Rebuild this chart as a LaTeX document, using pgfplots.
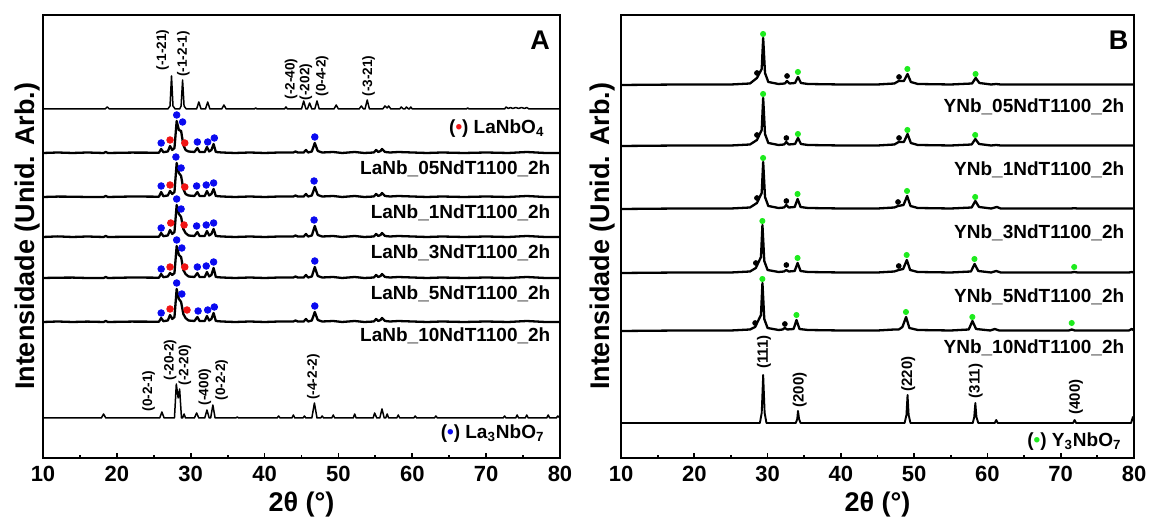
\documentclass[border=0pt]{standalone}
\usepackage{fontspec}
\setmainfont{Liberation Sans}
\usepackage{pgfplots}
\usepackage{pgfplotstable}
\pgfplotsset{compat=1.18}
\definecolor{dotblue}{RGB}{10,10,240}
\definecolor{dotred}{RGB}{240,20,20}
\definecolor{dotgreen}{RGB}{30,235,30}
\newcommand{\lab}{\bfseries\fontsize{9.5}{11}\selectfont}
\newcommand{\hklA}{\bfseries\fontsize{6.8}{8}\selectfont}
\newcommand{\hklB}{\bfseries\fontsize{7.5}{9}\selectfont}

% LaNbO4 reference (panel A, top)
\pgfplotstableread{
x y
10 0
18.4 0
18.7 2
19.0 0
26.9 0
27.2 3
27.4 33
27.6 3
27.9 0
28.5 0
28.7 3
28.9 29
29.1 3
29.4 0
30.8 0
31.1 7
31.4 0
32.0 0
32.3 7
32.6 0
34.2 0
34.5 4
34.8 0
38.6 0
38.8 1
39.0 0
42.7 0
42.9 2
43.1 0
45.0 0
45.3 8
45.6 0
45.8 0
46.1 6
46.4 0
46.8 0
47.1 8
47.4 0
49.4 0
49.7 4
50.0 0
52.8 0
53.1 3
53.4 0
53.6 0
53.9 9
54.2 0
56.0 0
56.3 3
56.6 1
56.8 3
57.1 0
58.3 0
58.5 2
58.8 0
59.0 0
59.2 2
59.5 0
59.6 0
59.8 2
60.0 0
67.3 0
67.5 1
67.7 0
72.5 0
72.7 2
73.0 0.5
73.3 1.5
73.6 0.5
74.0 1.5
74.4 0.5
74.8 1.5
75.2 0.5
75.5 1.5
75.8 0
80 0
}\tabLaNbO

% La3NbO7 reference (panel A, bottom)
\pgfplotstableread{
x y
10 0
17.9 0
18.2 4
18.5 0
25.8 0
26.1 6
26.4 0
27.8 0
28.05 34
28.3 20
28.5 29
28.75 0
28.9 0
29.1 4
29.3 0
30.5 0
30.8 5
31.1 0
31.9 0
32.2 8
32.5 0
32.7 0
33.0 13
33.3 0
36.1 0
36.3 1
36.5 0
41.7 0
41.9 2
42.1 0
43.7 0
43.9 3
44.1 0
45.2 0
45.4 2
45.6 0
46.4 0
46.75 15
47.1 0
47.6 0
47.8 2
48.0 0
49.1 0
49.3 3
49.5 0
52.0 0
52.2 4
52.4 0
54.7 0
54.9 5
55.2 0
55.6 0
55.9 9
56.2 0
56.4 0
56.6 4
56.8 0
57.9 0
58.1 3
58.3 0
60.2 0
60.4 2
60.6 0
63.0 0
63.2 2
63.4 0
72.3 0
72.5 2
72.7 0
74.0 0
74.2 3
74.4 0
75.3 0
75.5 3
75.7 0
78.2 0
78.4 3
78.6 0
79.5 0
79.7 2
80 0
}\tabLaSeven

% LaNb samples
\pgfplotstableread{
x s05 s1 s3 s5 s10
10 0 0 0 0 0
12 0.5 0.4 0.6 0.3 0.5
14 0 0.3 0 0.4 0
16 0.5 0 0.5 0 0.4
18.2 0 0 0 0 0
18.5 1 1 1 1 1
18.8 0 0 0 0 0
22 0.4 0.5 0.3 0.5 0.4
25.7 0.3 0.3 0.3 0.3 0.3
26.0 4 5 4 4 4
26.3 0.8 0.8 0.8 0.8 0.8
26.9 1.5 1.5 1.5 1.5 1.5
27.2 7 6 7 5 7
27.5 3 3 3 3 3
27.8 5 5 5 5 5
28.1 32 34 32 32 33
28.4 23 24 23 23 23
28.7 22 21 20 21 20
29.0 8 8 8 8 8
29.3 3 3 4 4 4
29.7 1.5 1.5 1.5 1.5 1.5
30.5 1 1 1 1 1
30.9 5 5 5 5 5
31.2 1 1 1 1 1
31.9 1 1 1 1 1
32.2 6 6 6 6 6
32.5 1.5 1.5 1.5 1.5 1.5
32.8 3 3 3 3 3
33.1 9 8 8 10 9
33.4 1 1 1 1 1
34.2 0.5 0.5 0.5 0.5 0.5
36.0 0 0 0 0 0
38.0 0.5 0.5 0.5 0.5 0.5
40.0 0 0 0 0 0
42.0 0.5 0.5 0.5 0.5 0.5
43.9 0.5 0.5 0.5 0.5 0.5
44.2 1.5 1.5 1.5 1.5 1.5
44.5 0.5 0.5 0.5 0.5 0.5
45.3 0.5 0.5 0.5 0.5 0.5
45.6 3 3 3 3 3
45.9 0.5 0.5 0.5 0.5 0.5
46.4 1.5 1.5 1.5 1.5 1.5
46.8 10 10 11 11 10
47.2 2 2 2 2 2
47.8 0.5 0.5 0.5 0.5 0.5
49.3 1 1 1 1 1
50.5 0 0 0 0 0
52.2 1 1 1 1 1
53.5 0 0 0 0 0
54.8 0.5 0.5 0.5 0.5 0.5
55.1 3 3 3 3 3
55.4 1 1 1 1 1
55.7 2 2 2 2 2
55.9 4 4 4 4 4
56.3 1 1 1 1 1
57.0 0.5 0.5 0.5 0.5 0.5
58.1 1 1 1 1 1
60.0 0.5 0.5 0.5 0.5 0.5
62.0 0 0 0 0 0
64.0 0.5 0.5 0.5 0.5 0.5
67.0 0 0 0 0 0
70.0 0.5 0.5 0.5 0.5 0.5
73.0 0 0 0 0 0
75.5 1 1 1 1 1
78.0 0 0 0 0 0
80.0 0 0 0 0 0
}\tabLaSamples

% YNb samples (x and y per sample)
\pgfplotstableread{
xa ya xb yb xc yc xd yd xe ye
10 0 10 0 10 0 10 0 10 0
18 0.5 18 0.5 18 0.5 18 0.5 18 0.5
25 0.5 25 0.5 25 0.5 25 0.5 25 0.5
27.6 1.5 27.6 1.5 27.6 1.5 27.6 1.5 27.6 1.5
28.55 7 28.55 6 28.55 6 28.4 5 28.3 4
29.2 16 29.2 16 29.2 16 29.1 16 29.1 16
29.4 47 29.4 48 29.4 47 29.3 48 29.3 48
29.65 12 29.65 12 29.65 12 29.55 12 29.55 12
30.1 3 30.1 3 30.1 3 30.0 3 30.0 3
31.5 1 31.5 1 31.5 1 31.5 1 31.5 1
32.35 1.5 32.25 1.5 32.25 1.5 32.25 1.5 32.05 1.5
32.65 4 32.55 4 32.55 4 32.55 3 32.35 3
33.0 1.5 32.9 1.5 32.9 1.5 32.9 1.5 32.7 1.5
33.75 2 33.75 2 33.7 2 33.7 2 33.55 2
34.15 8 34.15 8 34.1 10 34.1 10 33.95 11
34.55 2 34.55 2 34.5 2 34.5 2 34.35 2
35.5 1 35.5 1 35.5 1 35.5 1 35.5 1
40 0.5 40 0.5 40 0.5 40 0.5 40 0.5
45 0.5 45 0.5 45 0.5 45 0.5 45 0.5
47.3 1.5 47.3 1.5 47.3 1.5 47.3 1.5 47.3 1.5
47.9 4 47.9 4 47.8 3 47.9 3 47.9 1.5
48.6 4 48.6 4 48.55 4 48.5 4 48.4 4
49.1 11 49.1 12 49.05 13 49.0 13 48.9 14
49.55 3 49.55 3 49.5 3 49.45 3 49.35 3
50.5 1 50.5 1 50.5 1 50.5 1 50.5 1
55 0.5 55 0.5 55 0.5 55 0.5 55 0.5
57.9 1.5 57.85 1.5 57.85 1.5 57.75 1.5 57.45 1.5
58.4 7 58.35 7 58.35 8 58.25 9 57.95 10
58.9 2 58.85 2 58.85 2 58.75 2 58.45 2
60.5 0.5 60.5 0.5 60.5 0.5 60.5 0.5 60.4 0.5
61.2 1 61.2 1 61.3 2 61.2 2 61.0 2
61.8 0.5 61.8 0.5 61.8 0.5 61.8 0.5 61.6 0.5
65 0.5 65 0.5 65 0.5 65 0.5 65 0.5
71.5 0.5 71.5 0.5 71.4 0.5 71.4 0.5 71.1 0.5
71.9 0.5 71.9 0.5 71.85 0.8 71.85 1 71.5 1.5
72.3 0.5 72.3 0.5 72.3 0.5 72.3 0.5 71.9 0.5
79.3 0.5 79.3 0.5 79.3 0.5 79.3 0.5 79.3 0.5
79.7 0.5 79.7 0.5 79.7 0.5 79.7 1 79.7 2
80 0.5 80 0.5 80 0.5 80 0.5 80 0.5
}\tabYSamples

% Y3NbO7 reference
\pgfplotstableread{
x y
10 0
28.95 0
29.2 10
29.4 48
29.6 10
29.85 0
33.85 0
34.05 4
34.15 12
34.3 4
34.5 0
48.7 0
48.95 8
49.1 28
49.25 8
49.5 0
58.0 0
58.2 6
58.35 20
58.5 6
58.75 0
61.0 0
61.2 3
61.4 0
71.7 0
71.9 3
72.1 0
79.6 0
79.85 6
80 4
}\tabYSeven

\pgfplotsset{
 xrd/.style={
  scale only axis, height=221.5pt,
  xmin=10, xmax=80, ymin=0, ymax=443,
  ytick=\empty, xtick={10,20,...,80}, minor x tick num=1,
  tick align=inside, xtick pos=bottom,
  major tick length=2.5pt, minor tick length=1.5pt,
  every tick/.style={black, line width=0.9pt},
  axis line style={line width=1.15pt},
  tick label style={font=\bfseries\fontsize{11}{13}\selectfont},
  /pgf/number format/assume math mode=true,
  xticklabel style={yshift=-0.5pt},
  xlabel={2θ (°)}, ylabel={Intensidade (Unid. Arb.)},
  label style={font=\bfseries\fontsize{13.5}{16}\selectfont},
  xlabel style={at={(axis description cs:0.5,0)}, anchor=center, yshift=-23.5pt},
  clip=false,
 },
 samp/.style={black, line width=1.15pt, line join=round},
 refp/.style={black, line width=0.75pt, line join=round},
 bdot/.style={only marks, mark=*, mark size=1.65pt, color=dotblue},
 rdot/.style={only marks, mark=*, mark size=1.65pt, color=dotred},
 gdot/.style={only marks, mark=*, mark size=1.3pt, color=dotgreen},
 kdot/.style={only marks, mark=*, mark size=1.2pt, color=black},
}

\begin{document}
\begin{tikzpicture}
\useasboundingbox (0,0) rectangle (575.5pt,259pt);
% ---------------- Panel A ----------------
\begin{axis}[xrd, width=258.5pt, at={(21.5pt,30pt)}, anchor=south west,
  ylabel style={at={(axis description cs:-0.029,0.5)}, anchor=center}]
\addplot[refp] table[x=x, y expr=\thisrow{y}+349] {\tabLaNbO};
\addplot[samp] table[x=x, y expr=\thisrow{s05}+305] {\tabLaSamples};
\addplot[samp] table[x=x, y expr=\thisrow{s1}+261] {\tabLaSamples};
\addplot[samp] table[x=x, y expr=\thisrow{s3}+221] {\tabLaSamples};
\addplot[samp] table[x=x, y expr=\thisrow{s5}+180] {\tabLaSamples};
\addplot[samp] table[x=x, y expr=\thisrow{s10}+136] {\tabLaSamples};
\addplot[refp] table[x=x, y expr=\thisrow{y}+40] {\tabLaSeven};
% La3NbO7 markers
\addplot[bdot] coordinates {(26.0,315) (28.1,343) (28.9,336) (30.9,316) (32.3,316) (33.2,320) (46.8,321)
 (26.0,272) (28.0,301) (28.7,290) (30.8,272) (32.1,273) (33.1,275) (46.7,277)
 (26.0,230) (28.1,259) (28.7,249) (30.8,232) (32.1,233) (33.1,235) (46.7,238)
 (26.0,189) (28.1,218) (28.8,210) (30.9,191) (32.1,192) (33.1,196) (46.8,197)
 (26.0,145) (28.1,175) (28.8,164) (31.0,147) (32.3,148) (33.2,151) (46.8,152)};
% LaNbO4 markers
\addplot[rdot] coordinates {(27.2,318) (29.2,315) (27.2,273) (29.2,271) (27.3,235) (29.1,233)
 (27.2,191) (29.2,191) (27.2,149) (29.5,148)};
% hkl labels
\node[rotate=90, font=\hklA] at (axis cs:26.2,408) {(-1-21)};
\node[rotate=90, font=\hklA] at (axis cs:29.0,404) {(-1-2-1)};
\node[rotate=90, font=\hklA] at (axis cs:43.6,379) {(-2-40)};
\node[rotate=90, font=\hklA] at (axis cs:45.6,376) {(-202)};
\node[rotate=90, font=\hklA] at (axis cs:47.8,382) {(0-4-2)};
\node[rotate=90, font=\hklA] at (axis cs:54.1,382) {(-3-21)};
\node[rotate=90, font=\hklA] at (axis cs:24.3,67) {(0-2-1)};
\node[rotate=90, font=\hklA] at (axis cs:27.2,98) {(-20-2)};
\node[rotate=90, font=\hklA] at (axis cs:29.2,93) {(-2-20)};
\node[rotate=90, font=\hklA] at (axis cs:31.9,71) {(-400)};
\node[rotate=90, font=\hklA] at (axis cs:34.2,78) {(0-2-2)};
\node[rotate=90, font=\hklA] at (axis cs:46.6,81) {(-4-2-2)};
% sample labels
\node[anchor=east, font=\lab] at (axis cs:78.85,329) {(\textcolor{dotred}{•}) LaNbO\textsubscript{4}};
\node[anchor=east, font=\lab] at (axis cs:79.65,289) {LaNb\_05NdT1100\_2h};
\node[anchor=east, font=\lab] at (axis cs:79.65,245) {LaNb\_1NdT1100\_2h};
\node[anchor=east, font=\lab] at (axis cs:79.65,205) {LaNb\_3NdT1100\_2h};
\node[anchor=east, font=\lab] at (axis cs:79.65,164) {LaNb\_5NdT1100\_2h};
\node[anchor=east, font=\lab] at (axis cs:79.65,122) {LaNb\_10NdT1100\_2h};
\node[anchor=east, font=\lab] at (axis cs:78.85,24) {(\textcolor{dotblue}{•}) La\textsubscript{3}NbO\textsubscript{7}};
\node[font=\bfseries\fontsize{13.5}{16}\selectfont] at (axis cs:77.3,418) {A};
\end{axis}
% ---------------- Panel B ----------------
\begin{axis}[xrd, width=256.5pt, at={(310.5pt,30pt)}, anchor=south west,
  ylabel style={at={(axis description cs:-0.037,0.5)}, anchor=center}]
\addplot[samp] table[x=xa, y expr=\thisrow{ya}+373] {\tabYSamples};
\addplot[samp] table[x=xb, y expr=\thisrow{yb}+312] {\tabYSamples};
\addplot[samp] table[x=xc, y expr=\thisrow{yc}+249] {\tabYSamples};
\addplot[samp] table[x=xd, y expr=\thisrow{yd}+185] {\tabYSamples};
\addplot[samp] table[x=xe, y expr=\thisrow{ye}+127] {\tabYSamples};
\addplot[black, line width=0.95pt, line join=round] table[x=x, y expr=\thisrow{y}+35] {\tabYSeven};
% Y3NbO7 markers
\addplot[gdot] coordinates {(29.39,424) (34.14,386) (49.08,389) (58.38,384)
 (29.39,364) (34.14,324) (49.08,328) (58.33,323)
 (29.39,300) (34.09,264) (49.03,267) (58.33,261)
 (29.29,237) (34.09,200) (48.98,203) (58.23,199) (71.84,191)
 (29.29,179) (33.94,143) (48.88,146) (57.94,141) (71.5,135)};
% secondary phase markers
\addplot[kdot] coordinates {(28.55,385) (32.66,382) (47.94,381)
 (28.55,323) (32.56,320) (47.94,320)
 (28.55,260) (32.56,257) (47.8,256)
 (28.4,195) (32.56,193) (47.9,192)
 (28.3,135) (32.36,134)};
\node[rotate=90, font=\hklB] at (axis cs:29.5,106) {(111)};
\node[rotate=90, font=\hklB] at (axis cs:34.4,68) {(200)};
\node[rotate=90, font=\hklB] at (axis cs:49.2,84) {(220)};
\node[rotate=90, font=\hklB] at (axis cs:58.4,77) {(311)};
\node[rotate=90, font=\hklB] at (axis cs:72.1,61) {(400)};
\node[anchor=east, font=\lab] at (axis cs:79.63,351) {YNb\_05NdT1100\_2h};
\node[anchor=east, font=\lab] at (axis cs:79.63,288) {YNb\_1NdT1100\_2h};
\node[anchor=east, font=\lab] at (axis cs:79.63,225) {YNb\_3NdT1100\_2h};
\node[anchor=east, font=\lab] at (axis cs:79.63,161) {YNb\_5NdT1100\_2h};
\node[anchor=east, font=\lab] at (axis cs:79.63,110) {YNb\_10NdT1100\_2h};
\node[anchor=east, font=\lab] at (axis cs:79.25,16) {(\textcolor{dotgreen}{•}) Y\textsubscript{3}NbO\textsubscript{7}};
\node[font=\bfseries\fontsize{13.5}{16}\selectfont] at (axis cs:77.9,418) {B};
\end{axis}
\end{tikzpicture}
\end{document}
